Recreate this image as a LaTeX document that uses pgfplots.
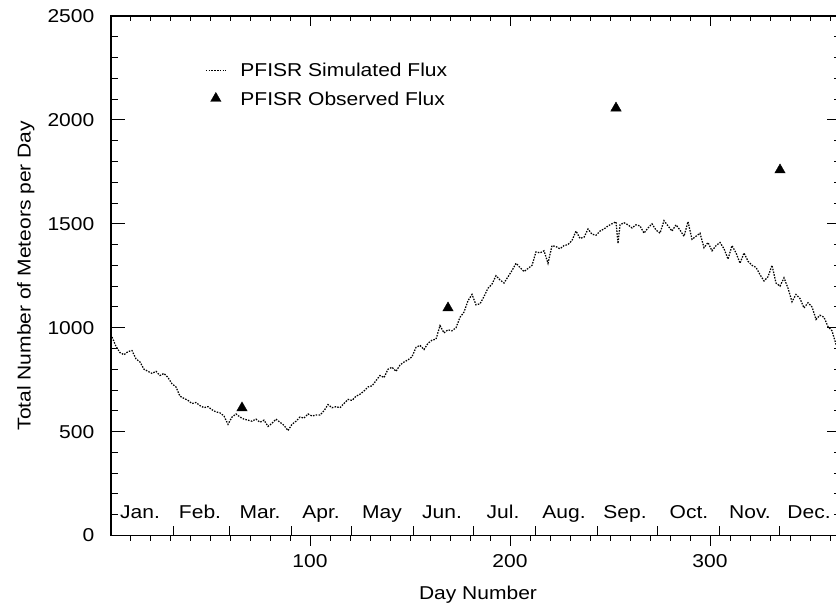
\documentclass[border=0pt]{standalone}
\usepackage{fontspec}
\setmainfont{Liberation Sans}[FakeStretch=1.13]
\usepackage{pgfplots}
\pgfplotsset{compat=1.18}
\pgfplotsset{
 lineleg/.style={legend image code/.code={\draw[##1] (0bp,0bp) -- (20bp,0bp);}},
 markleg/.style={legend image code/.code={\draw[mark repeat=2, mark phase=2, ##1] plot coordinates {(0bp,0bp) (10bp,0bp) (20bp,0bp)};}},
 base/.style={scale only axis, width=730bp, height=519.5bp,
   xmin=0.5, xmax=365.5, ymin=0, ymax=2500,
   axis line style={line width=1.3bp},
   every tick/.style={line width=0.9bp, black},
   /pgf/number format/assume math mode=true,
   /pgf/number format/1000 sep={}},
}
\begin{document}
\begin{tikzpicture}[font=\fontsize{18.6bp}{22bp}\selectfont]
\begin{axis}[base, clip=false,
  ytick={0,500,...,2500}, minor ytick={100,200,...,2400},
  ytick pos=both, tick align=inside,
  major tick length=14bp, minor tick length=7bp,
  xtick=\empty,
  yticklabel style={inner sep=0pt, xshift=-16.5bp},
  legend style={at={(rel axis cs:0.1288,0.9089)}, anchor=north west,
    draw=none, fill=none, inner sep=0pt,
    nodes={inner sep=0pt, text height=13.3bp, text depth=0bp},
    row sep=15bp, column sep=14bp},
  legend cell align=left]
\addplot[black, line width=1.25bp, dash pattern=on 1.5bp off 1.3bp, lineleg]
 coordinates {(1,955)(3,910)(5,880)(7,870)(9,885)(11,890)(13,850)(15,835)(17,800)(19,790)(21,780)(23,790)(25,770)(27,780)(29,760)(31,730)(33,715)(35,670)(37,660)(39,650)(41,635)(43,640)(45,625)(47,615)(49,620)(51,605)(53,595)(55,590)(57,575)(59,535)(61,570)(63,585)(65,570)(67,560)(69,555)(71,550)(73,560)(75,545)(77,555)(79,525)(81,540)(83,560)(85,545)(87,530)(89,505)(91,535)(93,550)(95,570)(97,565)(99,585)(101,575)(103,580)(105,580)(107,600)(109,630)(111,615)(113,620)(115,615)(117,635)(119,655)(121,650)(123,670)(125,680)(127,695)(129,715)(131,720)(133,745)(135,770)(137,760)(139,800)(141,810)(143,790)(145,820)(147,835)(149,845)(151,860)(153,905)(155,915)(157,895)(159,925)(161,940)(163,945)(165,1010)(167,975)(169,990)(171,985)(173,1000)(175,1050)(177,1075)(179,1130)(181,1160)(183,1110)(185,1115)(187,1150)(189,1190)(191,1210)(193,1250)(195,1230)(197,1215)(199,1245)(201,1275)(203,1310)(205,1290)(207,1270)(209,1285)(211,1300)(213,1365)(215,1360)(217,1370)(219,1310)(221,1395)(223,1390)(225,1380)(227,1395)(229,1400)(231,1420)(233,1465)(235,1430)(237,1435)(239,1475)(241,1450)(243,1445)(245,1465)(247,1475)(249,1490)(251,1500)(253,1510)(254,1405)(255,1495)(257,1505)(259,1495)(261,1480)(263,1495)(265,1490)(267,1455)(269,1480)(271,1500)(273,1470)(275,1455)(277,1515)(279,1490)(281,1465)(283,1495)(285,1470)(287,1440)(289,1510)(291,1425)(293,1440)(295,1455)(297,1385)(299,1410)(301,1370)(303,1395)(305,1410)(307,1380)(309,1330)(311,1395)(313,1360)(315,1310)(317,1360)(319,1320)(321,1300)(323,1290)(325,1255)(327,1225)(329,1245)(331,1300)(333,1215)(335,1200)(337,1240)(339,1190)(341,1125)(343,1160)(345,1140)(347,1095)(349,1120)(351,1100)(353,1040)(355,1060)(357,1050)(359,1005)(361,985)(363,920)(365,900)};
\addlegendentry{PFISR Simulated Flux}
\addplot[only marks, mark=triangle*, mark size=6bp, black, markleg]
 coordinates {(66,614)(169,1095)(253,2057)(335,1759)};
\addlegendentry{PFISR Observed Flux}
\node[anchor=base] at ([yshift=17.2bp]axis cs:15,0) {Jan.};
\node[anchor=base] at ([yshift=17.2bp]axis cs:45,0) {Feb.};
\node[anchor=base] at ([yshift=17.2bp]axis cs:75,0) {Mar.};
\node[anchor=base] at ([yshift=17.2bp]axis cs:105.5,0) {Apr.};
\node[anchor=base] at ([yshift=17.2bp]axis cs:136,0) {May};
\node[anchor=base] at ([yshift=17.2bp]axis cs:166,0) {Jun.};
\node[anchor=base] at ([yshift=17.2bp]axis cs:196.5,0) {Jul.};
\node[anchor=base] at ([yshift=17.2bp]axis cs:227,0) {Aug.};
\node[anchor=base] at ([yshift=17.2bp]axis cs:257.5,0) {Sep.};
\node[anchor=base] at ([yshift=17.2bp]axis cs:289.5,0) {Oct.};
\node[anchor=base] at ([yshift=17.2bp]axis cs:320,0) {Nov.};
\node[anchor=base] at ([yshift=17.2bp]axis cs:349.5,0) {Dec.};
\node[anchor=base, rotate=90] at ([xshift=-80.3bp]rel axis cs:0,0.5) {Total Number of Meteors per Day};
\node[anchor=base] at ([yshift=-63.5bp,xshift=2bp]rel axis cs:0.5,0) {Day Number};
\coordinate (SW) at (rel axis cs:0,0);
\coordinate (NE) at (rel axis cs:1,1);
\end{axis}
% bottom outward ticks with labels
\begin{axis}[base,
  xtick={100,200,300}, minor xtick={10,20,...,360},
  xtick pos=lower, tick align=outside,
  major tick length=10bp, minor tick length=5bp,
  ytick=\empty,
  xticklabel style={inner sep=0pt, yshift=-9bp}]
\end{axis}
% top inward ticks
\begin{axis}[base,
  xtick={100,200,300}, minor xtick={10,20,...,360},
  xtick pos=upper, tick align=inside,
  major tick length=10bp, minor tick length=5bp,
  ytick=\empty, xticklabels={}]
\end{axis}
% month boundary ticks
\begin{axis}[base,
  xtick={31.5,59.5,90.5,120.5,151.5,181.5,212.5,243.5,273.5,304.5,334.5},
  xtick pos=lower, tick align=inside,
  major tick length=9bp,
  ytick=\empty, xticklabels={}]
\end{axis}
\pgfresetboundingbox
\path ([shift={(-111bp,-70.5bp)}]SW) rectangle ([shift={(-5bp,16bp)}]NE);
\end{tikzpicture}
\end{document}
